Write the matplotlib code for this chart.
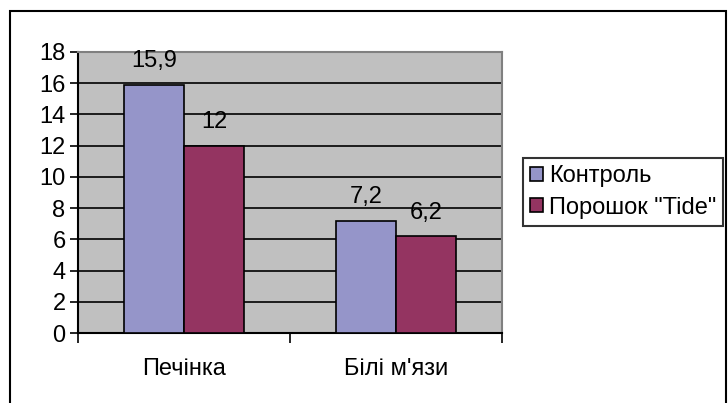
import matplotlib.pyplot as plt
from matplotlib.patches import Rectangle
import numpy as np

plt.rcParams['font.family'] = ['Liberation Sans', 'DejaVu Sans']

categories = ['Печінка', 'Білі м\'язи']
series_names = ['Контроль', 'Порошок "Tide"']
control = [15.9, 7.2]
tide = [12.0, 6.2]
value_labels = [['15,9', '7,2'], ['12', '6,2']]
colors = ['#9595C9', '#943461']
fs = 17

fig = plt.figure(figsize=(7.28, 4.03), dpi=100)
ax = fig.add_axes([78 / 728, 1 - 333 / 403, 424 / 728, 281 / 403])
ax.set_facecolor('#C0C0C0')

x = np.arange(len(categories))
w = 0.2825
for i, (vals, col) in enumerate(zip([control, tide], colors)):
    bars = ax.bar(x + (i - 0.5) * w, vals, w, color=col, edgecolor='black',
                  linewidth=1.2, label=series_names[i], zorder=3)
    for b, txt in zip(bars, value_labels[i]):
        ax.annotate(txt, (b.get_x() + b.get_width() / 2, b.get_height()),
                    xytext=(0, 9), textcoords='offset points',
                    ha='center', va='bottom', fontsize=fs)

ax.set_xlim(-0.5, 1.5)
ax.set_ylim(0, 18)
ax.set_yticks(np.arange(0, 19, 2))
ax.yaxis.grid(True, color='black', linewidth=1.2, zorder=0)
ax.set_axisbelow(True)
ax.tick_params(axis='y', direction='out', length=6, width=1.2, labelsize=fs, pad=3)

ax.set_xticks(x)
ax.set_xticklabels(categories, fontsize=fs)
ax.set_xticks([-0.5, 0.5, 1.5], minor=True)
ax.tick_params(axis='x', which='major', length=0, pad=18)
ax.tick_params(axis='x', which='minor', direction='out', length=7, width=1.2)

for s in ['left', 'bottom']:
    ax.spines[s].set_linewidth(1.5)
    ax.spines[s].set_color('black')
for s in ['top', 'right']:
    ax.spines[s].set_linewidth(1.5)
    ax.spines[s].set_color('#808080')

leg = fig.legend(loc='upper left', bbox_to_anchor=(523 / 728, 1 - 158 / 403),
                 fontsize=fs, frameon=True, fancybox=False, edgecolor='black',
                 handlelength=0.55, handleheight=0.55, handletextpad=0.25,
                 borderpad=0.3, labelspacing=0.4, borderaxespad=0)
leg.get_frame().set_linewidth(1.5)

fig.patches.append(Rectangle((10 / 728, -0.01), 716 / 728, 1 - 11 / 403 + 0.01,
                             transform=fig.transFigure, fill=False,
                             edgecolor='black', linewidth=1.5))

fig.savefig('out.png', dpi=100)
